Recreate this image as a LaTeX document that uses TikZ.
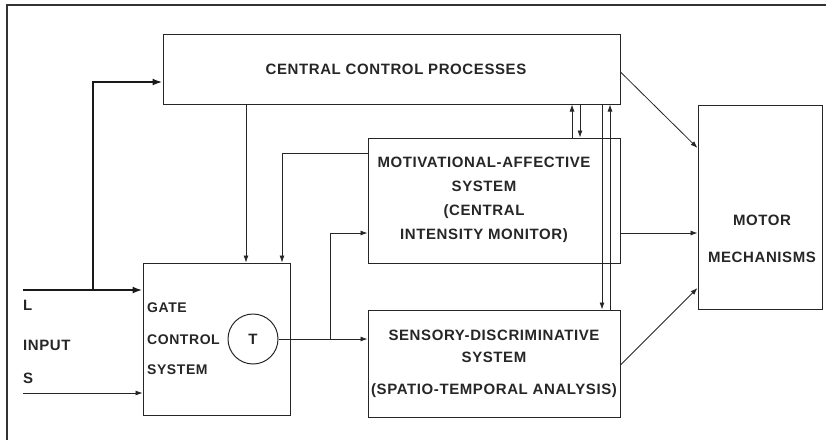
\documentclass[tikz,border=0pt]{standalone}
\usepackage{fontspec}
\setmainfont{Liberation Sans}[LetterSpace=4]
\usepackage{tikz}
\usetikzlibrary{arrows.meta,calc,positioning}
\tikzset{
  gcbox/.style={rectangle, draw=black!85, line width=1pt, inner sep=0pt},
  gcarr/.style={draw=black!85, line width=0.8pt, -{Latex[length=7pt,width=5pt]}},
  gcbold/.style={draw=black!90, line width=2.4pt, -{Latex[length=10pt,width=7pt]}},
  gclab/.style={font=\fontsize{15}{17}\selectfont\bfseries, text=black!85, inner sep=0pt}
}

\begin{document}
\begin{tikzpicture}[x=1pt,y=-1pt]
  \useasboundingbox (0,0) rectangle (826,440);
  \draw[black!80, line width=1.5pt] (826,5) -- (7,5) -- (7,440);
  % boxes
  \node[gcbox, minimum width=457pt, minimum height=70pt] (central) at (391.5,69) {};
  \node[gcbox, minimum width=252pt, minimum height=125pt] (motiv) at (494,200.5) {};
  \node[gcbox, minimum width=252pt, minimum height=107pt] (sens) at (494,363.5) {};
  \node[gcbox, minimum width=147pt, minimum height=152pt] (gate) at (216.5,339) {};
  \node[gcbox, minimum width=124pt, minimum height=204pt] (motor) at (760,207) {};
  \node[circle, draw=black!85, line width=1pt, minimum size=50pt, gclab] (T) at (253,339) {T};
  % texts
  \node[gclab] (centraltxt) at (396,69) {CENTRAL CONTROL PROCESSES};
  \node[gclab, align=center] (motivtxt) at (484,200) {MOTIVATIONAL-AFFECTIVE\\[7pt]
    SYSTEM\\[7pt] (CENTRAL\\[7pt] INTENSITY MONITOR)};
  \node[gclab, align=center] (senstxt) at (494,364) {SENSORY-DISCRIMINATIVE\\[5pt]
    SYSTEM\\[15pt] (SPATIO-TEMPORAL ANALYSIS)};
  \node[gclab, font=\fontsize{14}{17}\selectfont\bfseries, align=left, anchor=west]
    (gatetxt) at (147,339) {GATE\\[15pt] CONTROL\\[13pt] SYSTEM};
  \node[gclab, align=center] (motortxt) at (762,239) {MOTOR\\[20pt] MECHANISMS};
  \node[gclab, anchor=west] (Ltxt) at (23,305) {L};
  \node[gclab, anchor=west] (inputtxt) at (23,345) {INPUT};
  \node[gclab, anchor=west] (Stxt) at (23,378) {S};
  % input
  \coordinate (inL) at (23,290);
  \coordinate (inS) at (23,393);
  \coordinate (brL) at (93,290);
  \draw[gcbold] (inL) -- (inL -| gate.west);
  \draw[gcbold] (brL) |- ([yshift=-13pt]central.west);
  \draw[gcarr, line width=0.6pt] (inS) -- (inS -| gate.west);
  % feedback to gate
  \draw[gcarr] ([xshift=29.5pt]gate.north |- central.south) -- ([xshift=29.5pt]gate.north);
  \draw[gcarr] ([yshift=47.5pt]motiv.west) -| ([xshift=65.5pt]gate.north);
  % gate output
  \coordinate (tb) at (330,339);
  \draw[gcarr] (T.east) -- (T.east -| sens.west);
  \draw[gcarr] (tb) |- ([yshift=-32.5pt]motiv.west);
  % central <-> systems
  \draw[gcarr] ([xshift=78pt]motiv.north) -- ([xshift=78pt]motiv.north |- central.south);
  \draw[gcarr] ([xshift=86pt]motiv.north |- central.south) -- ([xshift=86pt]motiv.north);
  \draw[gcarr] ([xshift=108pt]sens.north |- central.south) -- ([xshift=108pt]sens.north);
  \draw[gcarr] ([xshift=116pt]sens.north) -- ([xshift=116pt]sens.north |- central.south);
  % to motor
  \draw[gcarr] ([yshift=-3pt]central.east) -- ([yshift=59pt]motor.west);
  \draw[gcarr] ([yshift=-32.5pt]motiv.east) -- ([yshift=-32.5pt]motiv.east -| motor.west);
  \draw[gcarr] ([yshift=-1.5pt]sens.east) -- ([yshift=-81pt]motor.west);
\end{tikzpicture}
\end{document}
